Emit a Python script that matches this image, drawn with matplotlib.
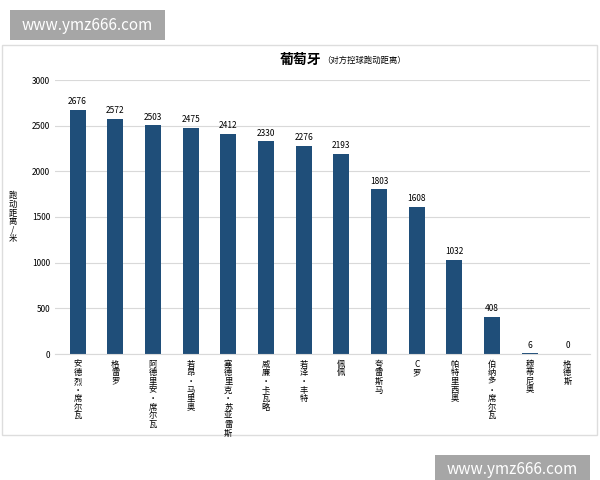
import matplotlib
matplotlib.use('Agg')
import matplotlib.pyplot as plt
from matplotlib.patches import Rectangle

plt.rcParams['font.family'] = ['Noto Sans CJK SC', 'DejaVu Sans']

players = ['安德烈·席尔瓦', '格雷罗', '阿德里安·席尔瓦', '若昂·马里奥', '塞德里克·苏亚雷斯',
           '威廉·卡瓦略', '若泽·丰特', '佩佩', '夸雷斯马', 'C罗', '帕特里西奥',
           '伯纳多·席尔瓦', '穆蒂尼奥', '格德斯']
distance = [2676, 2572, 2503, 2475, 2412, 2330, 2276, 2193, 1803, 1608, 1032, 408, 6, 0]
yticks = [0, 500, 1000, 1500, 2000, 2500, 3000]

fig = plt.figure(figsize=(6, 4.8), dpi=100)
W, H = 600, 480

# chart frame, kept behind the axes
fig.patches.append(Rectangle((2 / W, 1 - 435 / H), 595 / W, 390 / H, transform=fig.transFigure,
                             facecolor='white', edgecolor='#dddddd', lw=1, zorder=-1))

ax = fig.add_axes([55 / W, 1 - 354 / H, 535 / W, 274 / H])
ax.set_zorder(2)
ax.patch.set_alpha(0)
x = range(len(players))
ax.bar(x, distance, width=0.42, color='#1f4e79')
for i, v in zip(x, distance):
    ax.text(i, v + 40, str(v), ha='center', va='bottom', fontsize=6)
ax.set_ylim(0, 3000)
ax.set_xlim(-0.6, len(players) - 0.4)
ax.set_yticks(yticks)
ax.tick_params(axis='y', labelsize=6, length=0)
ax.grid(axis='y', color='#d9d9d9', lw=0.8)
ax.set_axisbelow(True)
for s in ['top', 'right', 'left']:
    ax.spines[s].set_visible(False)
ax.spines['bottom'].set_color('#d9d9d9')
ax.set_xticks(list(x))
ax.set_xticklabels(['\n'.join(p) for p in players],
                   fontsize=6, va='top', linespacing=0.95)
ax.tick_params(axis='x', length=0, pad=4)
ax.set_ylabel('跑\n动\n距\n离\n/\n米', fontsize=6, rotation=0, va='center', labelpad=14,
              linespacing=0.95)

fig.text(0.5, 1 - 60 / H, '葡萄牙', ha='center', va='center', fontsize=10, fontweight='bold')
fig.text(0.5 + 22 / W, 1 - 60 / H, '（对方控球跑动距离）', ha='left', va='center', fontsize=6)

# watermarks
for (x0, y0) in [(10, 10), (435, 455)]:
    fig.patches.append(Rectangle((x0 / W, 1 - (y0 + 30) / H), 155 / W, 30 / H,
                                 transform=fig.transFigure, facecolor='#a6a6a6',
                                 edgecolor='none', zorder=5))
    fig.text((x0 + 77) / W, 1 - (y0 + 15) / H, 'www.ymz666.com', ha='center', va='center',
             fontsize=11, color='white', zorder=6)

fig.savefig('out.png', dpi=100)
